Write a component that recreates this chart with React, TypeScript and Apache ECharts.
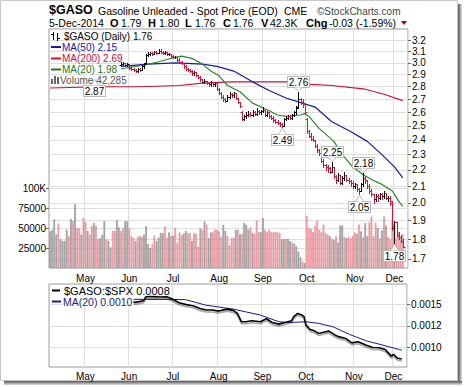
import React, { useEffect, useRef } from 'react';
import * as echarts from 'echarts';

const FONT = '"Liberation Sans", Arial, sans-serif';
const MONTHS = ['Jan', 'Feb', 'Mar', 'Apr', 'May', 'Jun', 'Jul', 'Aug', 'Sep', 'Oct', 'Nov', 'Dec'];
const HOLIDAYS = ['2014-04-18', '2014-05-26', '2014-07-04', '2014-09-01', '2014-11-27'];
const PAD_DAYS = 2;

// price ticks (right axis, log-scaled panel)
const PRICE_TICKS = [1.7, 1.8, 1.9, 2.0, 2.1, 2.2, 2.3, 2.4, 2.5, 2.6, 2.7, 2.8, 2.9, 3.0, 3.1, 3.2];
const PRICE_MIN = 1.656;
const PRICE_MAX = 3.31;
const VOL_TICKS = [25000, 50000, 75000, 100000];
const VOL_MAX = 300000;
const RATIO_TICKS = [0.001, 0.00125, 0.0015];
const RATIO_MIN = 0.000774;
const RATIO_MAX = 0.001736;

// daily OHLC, first bar at trading-day index PRICE_START
const PRICE_START = 34;
const OHLC: number[][] = [
  [2.98, 3.01, 2.97, 2.99], [2.99, 3.01, 2.98, 3.0], [3.0, 3.0, 2.97, 2.98], [2.98, 3.0, 2.97, 2.99],
  [2.98, 2.99, 2.95, 2.96], [2.96, 2.97, 2.94, 2.95], [2.95, 2.96, 2.93, 2.94], [2.94, 2.95, 2.92, 2.93],
  [2.93, 2.96, 2.92, 2.95], [2.95, 2.96, 2.93, 2.94], [2.94, 2.98, 2.94, 2.97], [2.97, 3.0, 2.96, 2.99],
  [3.0, 3.08, 3.0, 3.07], [3.07, 3.1, 3.06, 3.08], [3.08, 3.1, 3.07, 3.09], [3.09, 3.1, 3.07, 3.08],
  [3.08, 3.11, 3.08, 3.1], [3.1, 3.11, 3.08, 3.09], [3.09, 3.12, 3.09, 3.11], [3.11, 3.12, 3.09, 3.1],
  [3.1, 3.11, 3.08, 3.09], [3.09, 3.11, 3.08, 3.1], [3.1, 3.1, 3.07, 3.08], [3.08, 3.09, 3.07, 3.08],
  [3.08, 3.08, 3.05, 3.06], [3.06, 3.07, 3.04, 3.05], [3.05, 3.06, 3.04, 3.05], [3.05, 3.05, 3.02, 3.03],
  [3.03, 3.04, 3.0, 3.01], [3.01, 3.02, 2.99, 3.0], [3.0, 3.0, 2.96, 2.97], [2.97, 2.98, 2.94, 2.95],
  [2.95, 2.96, 2.93, 2.94], [2.94, 2.95, 2.92, 2.93], [2.93, 2.94, 2.9, 2.91], [2.91, 2.93, 2.9, 2.92],
  [2.92, 2.92, 2.89, 2.9], [2.9, 2.9, 2.87, 2.88], [2.88, 2.89, 2.85, 2.86], [2.86, 2.86, 2.83, 2.84],
  [2.84, 2.86, 2.83, 2.85], [2.85, 2.85, 2.82, 2.83], [2.83, 2.84, 2.81, 2.82], [2.82, 2.85, 2.81, 2.84],
  [2.84, 2.84, 2.81, 2.82], [2.82, 2.84, 2.81, 2.83], [2.83, 2.83, 2.77, 2.78], [2.78, 2.79, 2.74, 2.75],
  [2.75, 2.76, 2.71, 2.72], [2.72, 2.73, 2.69, 2.7], [2.7, 2.71, 2.68, 2.69], [2.69, 2.73, 2.69, 2.72],
  [2.72, 2.76, 2.71, 2.74], [2.74, 2.75, 2.72, 2.73], [2.73, 2.76, 2.72, 2.75], [2.75, 2.75, 2.7, 2.71],
  [2.71, 2.71, 2.67, 2.68], [2.68, 2.68, 2.64, 2.65], [2.6, 2.61, 2.54, 2.55], [2.55, 2.58, 2.54, 2.57],
  [2.57, 2.6, 2.56, 2.58], [2.58, 2.61, 2.57, 2.59], [2.59, 2.6, 2.57, 2.58], [2.58, 2.62, 2.57, 2.6],
  [2.6, 2.61, 2.58, 2.59], [2.59, 2.63, 2.58, 2.61], [2.61, 2.62, 2.59, 2.6], [2.6, 2.62, 2.59, 2.61],
  [2.61, 2.64, 2.6, 2.62], [2.62, 2.62, 2.57, 2.58], [2.58, 2.61, 2.57, 2.6], [2.6, 2.6, 2.56, 2.57],
  [2.57, 2.58, 2.55, 2.56], [2.56, 2.57, 2.53, 2.54], [2.54, 2.55, 2.52, 2.53], [2.53, 2.54, 2.51, 2.52],
  [2.52, 2.53, 2.5, 2.51], [2.51, 2.52, 2.49, 2.5], [2.5, 2.56, 2.5, 2.55], [2.55, 2.57, 2.54, 2.56],
  [2.56, 2.58, 2.55, 2.57], [2.57, 2.58, 2.55, 2.56], [2.56, 2.59, 2.55, 2.58], [2.58, 2.61, 2.57, 2.6],
  [2.6, 2.65, 2.59, 2.63], [2.64, 2.76, 2.63, 2.7], [2.7, 2.71, 2.66, 2.68], [2.68, 2.7, 2.64, 2.66],
  [2.66, 2.66, 2.59, 2.6], [2.55, 2.56, 2.45, 2.46], [2.46, 2.47, 2.42, 2.43], [2.43, 2.45, 2.4, 2.41],
  [2.41, 2.43, 2.39, 2.4], [2.4, 2.4, 2.35, 2.36], [2.36, 2.37, 2.32, 2.33], [2.33, 2.34, 2.3, 2.31],
  [2.31, 2.31, 2.25, 2.26], [2.26, 2.27, 2.22, 2.23], [2.23, 2.24, 2.2, 2.22], [2.22, 2.23, 2.19, 2.21],
  [2.21, 2.22, 2.18, 2.19], [2.19, 2.25, 2.19, 2.22], [2.22, 2.22, 2.15, 2.16], [2.16, 2.17, 2.12, 2.14],
  [2.14, 2.18, 2.13, 2.17], [2.17, 2.17, 2.11, 2.12], [2.12, 2.16, 2.11, 2.15], [2.15, 2.19, 2.14, 2.17],
  [2.17, 2.17, 2.13, 2.14], [2.14, 2.15, 2.12, 2.13], [2.13, 2.14, 2.1, 2.12], [2.12, 2.13, 2.09, 2.1],
  [2.1, 2.12, 2.09, 2.11], [2.11, 2.11, 2.07, 2.08], [2.08, 2.09, 2.05, 2.07], [2.07, 2.12, 2.07, 2.11],
  [2.11, 2.18, 2.1, 2.15], [2.15, 2.16, 2.12, 2.14], [2.14, 2.14, 2.09, 2.1], [2.1, 2.11, 2.06, 2.07],
  [2.07, 2.08, 2.04, 2.05], [2.05, 2.05, 2.0, 2.02], [2.02, 2.05, 2.01, 2.04], [2.04, 2.05, 2.01, 2.03],
  [2.03, 2.06, 2.02, 2.05], [2.05, 2.06, 2.02, 2.04], [2.04, 2.07, 2.03, 2.06], [2.06, 2.06, 2.02, 2.03],
  [2.03, 2.04, 2.01, 2.03], [2.03, 2.04, 1.99, 2.01], [2.0, 2.01, 1.85, 1.87], [1.86, 1.9, 1.78, 1.89],
  [1.89, 1.89, 1.81, 1.82], [1.82, 1.84, 1.8, 1.81], [1.81, 1.82, 1.785, 1.79], [1.79, 1.8, 1.76, 1.76],
];

// daily volume in thousands, every trading day from 7-Apr-2014
const VOLUME_K = [
  46, 48, 61, 42, 56, 36, 34, 34, 48, 40,
  61.5, 59, 80, 50, 50, 42, 62.7, 57.8, 46.7, 42,
  52.9, 56.6, 52.9, 36, 37.7, 41.8, 59, 35.7, 34, 25.8,
  46.7, 46.7, 60, 51, 46.7, 50, 58.6, 58.6, 50,
  40, 37.7, 34, 39, 40, 39, 42, 52.5, 30, 25,
  30, 40.6, 33.6, 38, 44, 44, 52.5, 38, 44.7, 40.6,
  40.6, 50, 31.6, 44.7, 41, 43, 46.7, 43.9, 43.9, 34,
  43.9, 43, 27, 49.6, 48, 58.6, 54.5, 37.3, 44.7, 44.7,
  48, 48, 46, 39, 54, 46.7, 40, 28.7, 38,
  38, 48, 48, 42, 43, 56.6, 54.5, 48, 51, 44,
  43, 59.5, 45, 45, 62.7, 48, 45, 48, 45, 45,
  45, 45, 44, 35.7, 36.5, 36.5, 36.5, 34, 31.6, 30.7,
  27.5, 20.5, 13.5, 8.2, 6.2, 65.6, 50.4, 49, 45, 53,
  59.5, 48, 45, 54.5, 44, 42, 39.8, 37, 35, 40,
  32, 53.3, 53.3, 39, 37.7, 39, 37, 40, 44.7, 43,
  54.5, 46, 39, 56.6, 40, 57.4, 64.8, 40, 56.6, 50.4,
  37, 47, 64.8, 53.3, 39, 36, 59.5, 55, 37, 45,
  37, 42.285,
];
// G = up day (grey bar), P = down day (pink bar)
const VOLUME_COLOR =
  'GGGGPGGGGP' + 'GPGPPGPPGP' + 'PGPPGGGPGG' + 'PPGGPPGGP' +
  'PPGPGPGGGG' + 'PPGGGGPPGP' + 'GPPPPGGPPG' + 'PPPGPGPGGP' + 'PPPPGGPP' + 'P' +
  'PGPGPGGGPG' + 'PPPGGPPPPP' + 'PPPGGPGGPG' + 'GGGPGPPPPP' + 'PPPPPPGPGP' +
  'GGGPGPPPPG' + 'PGPGGPPPPG' + 'PGPGPPPGPP' + 'PP';

const MA200_IDX = [0, 24, 43, 62, 73, 87, 115, 125, 135, 151, 160, 169];
const MA200_VAL = [2.79, 2.8, 2.8, 2.81, 2.83, 2.84, 2.84, 2.82, 2.81, 2.78, 2.74, 2.69];
const MA50_IDX = [34, 47, 60, 73, 80, 88, 97, 105, 113, 119, 127, 135, 144, 152, 159, 165, 169];
const MA50_VAL = [2.97, 2.99, 3.0, 2.99, 2.97, 2.93, 2.84, 2.77, 2.71, 2.68, 2.64, 2.53, 2.46, 2.39, 2.3, 2.22, 2.15];
const MA20_IDX = [34, 45, 52, 60, 63, 68, 73, 77, 81, 85, 91, 97, 104, 109, 113, 120, 122, 124, 129, 136, 140, 145, 150, 154, 159, 164, 167, 169];
const MA20_VAL = [2.95, 2.98, 3.01, 3.05, 3.06, 3.04, 2.99, 2.93, 2.89, 2.81, 2.76, 2.67, 2.62, 2.58, 2.57, 2.58, 2.59, 2.57, 2.48, 2.39, 2.3, 2.22, 2.17, 2.14, 2.11, 2.07, 2.01, 1.98];

const ANNOT_IDX = [21, 119, 111, 135, 150, 148, 165];
const ANNOT_VAL = [2.87, 2.76, 2.49, 2.25, 2.18, 2.05, 1.78];
const ANNOT_POS = ['below', 'above', 'below', 'above', 'above', 'below', 'below'];

const RATIO_IDX = [37, 41, 45, 46, 49, 53, 56, 58, 62, 65, 69, 72, 75, 78, 81, 85, 88, 90, 92, 94, 97, 101, 104, 107, 110, 113, 116, 117, 119, 121, 122, 123, 125, 127, 129, 132, 134, 137, 139, 142, 145, 148, 152, 155, 158, 161, 164, 165, 167, 169];
const RATIO_VAL = [0.001542, 0.001523, 0.001542, 0.001588, 0.00159, 0.001585, 0.001588, 0.00157, 0.001519, 0.0015, 0.00148, 0.001453, 0.001434, 0.001434, 0.001422, 0.001445, 0.00143, 0.001395, 0.001298, 0.001298, 0.00131, 0.001298, 0.001333, 0.001286, 0.001271, 0.00129, 0.00131, 0.001356, 0.001395, 0.001376, 0.00136, 0.00126, 0.001209, 0.001193, 0.001163, 0.00118, 0.00119, 0.001143, 0.001123, 0.001105, 0.001054, 0.001066, 0.001027, 0.001, 0.000997, 0.000977, 0.0009, 0.00092, 0.000875, 0.000867];
const RMA_IDX = [37, 45, 55, 65, 75, 88, 101, 110, 115, 123, 129, 136, 144, 152, 160, 168, 169];
const RMA_VAL = [0.001558, 0.001558, 0.001558, 0.001555, 0.00149, 0.001445, 0.001376, 0.001298, 0.00129, 0.001298, 0.00128, 0.00124, 0.00115, 0.001077, 0.001027, 0.000975, 0.000968];

function tradingDays(): string[] {
  const out: string[] = [];
  const d = new Date(Date.UTC(2014, 3, 7));
  const end = Date.UTC(2014, 11, 5);
  while (d.getTime() <= end) {
    const wd = d.getUTCDay();
    const s = d.toISOString().slice(0, 10);
    if (wd !== 0 && wd !== 6 && HOLIDAYS.indexOf(s) < 0) out.push(s);
    d.setUTCDate(d.getUTCDate() + 1);
  }
  return out;
}

const RED = '#e0103c';

function txt(x: number, y: number, text: string, size: number, color = '#000', bold = false, extra: any = {}) {
  return {
    type: 'text', x, y, z: 100, silent: true,
    style: { text, fill: color, font: `${bold ? 'bold ' : ''}${size}px ${FONT}`, align: 'left', verticalAlign: 'middle', lineHeight: size, ...extra },
  };
}
function dash(x: number, y: number, w: number, color: string) {
  return { type: 'rect', z: 100, silent: true, shape: { x, y: y - 1, width: w, height: 2 }, style: { fill: color } };
}

function buildOption() {
  const dates = tradingDays();
  const cats = dates.concat(Array.from({ length: PAD_DAYS }, (_, k) => 'pad' + k));
  const monthStart = cats.map((d, i) => i > 0 && i < dates.length && d.slice(5, 7) !== cats[i - 1].slice(5, 7));
  const interval = (i: number) => !!monthStart[i];
  const monthLabel = (v: string) => (v.startsWith('pad') ? '' : MONTHS[parseInt(v.slice(5, 7), 10) - 1]);

  const ohlcData = OHLC.map((d, k) => {
    const prev = k === 0 ? d[0] : OHLC[k - 1][3];
    return [PRICE_START + k, Math.log(d[0]), Math.log(d[1]), Math.log(d[2]), Math.log(d[3]), d[3] >= prev ? 1 : 0];
  });
  const pairs = (idx: number[], vals: number[], log: boolean) => idx.map((i, k) => [i, log ? Math.log(vals[k]) : vals[k]]);

  const gridLine = { show: true, lineStyle: { color: '#dedede', width: 1 } };
  const xBase = (gridIndex: number, margin: number) => ({
    type: 'category', gridIndex, data: cats, boundaryGap: true,
    axisLine: { show: false }, axisTick: { show: false },
    axisLabel: { interval, formatter: monthLabel, fontSize: 10, color: '#000', margin, fontFamily: FONT },
    splitLine: { ...gridLine, interval },
  });

  const graphic: any[] = [
    // frame and shadow
    { type: 'rect', silent: true, shape: { x: 0.5, y: 0.5, width: 457, height: 380 }, style: { fill: 'none', stroke: '#c8c8c8' } },
    { type: 'rect', silent: true, shape: { x: 458, y: 4, width: 4, height: 381 },
      style: { fill: new echarts.graphic.LinearGradient(0, 0, 1, 0, [{ offset: 0, color: '#555' }, { offset: 1, color: '#ddd' }]) } },
    { type: 'rect', silent: true, shape: { x: 4, y: 381, width: 458, height: 4 },
      style: { fill: new echarts.graphic.LinearGradient(0, 0, 0, 1, [{ offset: 0, color: '#555' }, { offset: 1, color: '#ddd' }]) } },
    // header
    txt(49, 10, '$GASO', 12.5, '#000', true),
    txt(98, 11, 'Gasoline Unleaded - Spot Price (EOD)', 10.5),
    txt(284, 11, 'CME', 10.5),
    txt(317, 11, '©StockCharts.com', 10, '#444'),
    txt(49, 23, '5-Dec-2014', 10.5),
    txt(110, 23, 'O', 11, '#000', true), txt(121, 23, '1.79', 10.5),
    txt(148, 23, 'H', 11, '#000', true), txt(159, 23, '1.80', 10.5),
    txt(185, 23, 'L', 11, '#000', true), txt(195, 23, '1.76', 10.5),
    txt(223, 23, 'C', 11, '#000', true), txt(233, 23, '1.76', 10.5),
    txt(261, 23, 'V', 11, '#000', true), txt(270, 23, '42.3K', 10.5),
    txt(306, 23, 'Chg', 11, '#000', true), txt(329, 23, '-0.03 (-1.59%)', 10.5),
    { type: 'polygon', silent: true, shape: { points: [[401, 21], [407, 21], [404, 25]] }, style: { fill: '#a00030' } },
    // main legend
    { type: 'line', z: 100, silent: true, shape: { x1: 53.5, y1: 32, x2: 53.5, y2: 40 }, style: { stroke: '#000' } },
    { type: 'line', z: 100, silent: true, shape: { x1: 51, y1: 34.5, x2: 53.5, y2: 34.5 }, style: { stroke: '#000' } },
    { type: 'line', z: 100, silent: true, shape: { x1: 57.5, y1: 33, x2: 57.5, y2: 41 }, style: { stroke: '#000' } },
    { type: 'line', z: 100, silent: true, shape: { x1: 57.5, y1: 38.5, x2: 60, y2: 38.5 }, style: { stroke: '#000' } },
    txt(64, 36, '$GASO (Daily) 1.76', 10),
    dash(51, 47, 10, '#1a1a9a'), txt(62, 47, 'MA(50) 2.15', 10, '#1a1a9a'),
    dash(51, 58.5, 10, '#d0103a'), txt(62, 58.5, 'MA(200) 2.69', 10, '#d0103a'),
    dash(51, 69.5, 10, '#1e7b1e'), txt(62, 69.5, 'MA(20) 1.98', 10, '#1e7b1e'),
    { type: 'rect', z: 100, silent: true, shape: { x: 51, y: 79, width: 2, height: 5 }, style: { fill: '#666' } },
    { type: 'rect', z: 100, silent: true, shape: { x: 54, y: 76, width: 2, height: 8 }, style: { fill: '#666' } },
    { type: 'rect', z: 100, silent: true, shape: { x: 57, y: 77, width: 2, height: 7 }, style: { fill: '#666' } },
    txt(60, 80, 'Volume 42,285', 10, '#555'),
    // lower legend
    dash(52, 290.5, 8, '#000'), txt(64, 290.5, '$GASO:$SPX 0.0008', 11, '#000'),
    dash(52, 301.5, 9, '#1a1a8a'),
    txt(62, 301.5, 'MA(20) 0.0010', 10.5, '#1a1a8a', false, { backgroundColor: '#fff', padding: [0, 1, 0, 1] }),
  ];

  return {
    animation: false,
    backgroundColor: '#fff',
    textStyle: { fontFamily: FONT },
    graphic: { elements: graphic },
    grid: [
      { left: 49, top: 29, width: 359, height: 239, show: true, borderColor: '#9a9a9a', borderWidth: 1, outerBoundsMode: 'none' },
      { left: 49, top: 284, width: 358, height: 83, show: true, borderColor: '#9a9a9a', borderWidth: 1, outerBoundsMode: 'none' },
    ],
    xAxis: [xBase(0, 5), xBase(1, 4)],
    yAxis: [
      {
        type: 'value', gridIndex: 0, position: 'right', min: Math.log(PRICE_MIN), max: Math.log(PRICE_MAX),
        axisLine: { show: false },
        axisTick: { show: true, length: 3, customValues: PRICE_TICKS.map(Math.log), lineStyle: { color: '#666' } },
        axisLabel: { customValues: PRICE_TICKS.map(Math.log), formatter: (v: number) => Math.exp(v).toFixed(1), fontSize: 10, color: '#000', margin: 4 },
        splitLine: gridLine,
      },
      {
        type: 'value', gridIndex: 0, position: 'left', min: 0, max: VOL_MAX,
        axisLine: { show: false },
        axisTick: { show: true, length: 3, customValues: VOL_TICKS, lineStyle: { color: '#666' } },
        axisLabel: { customValues: VOL_TICKS, formatter: (v: number) => (v >= 100000 ? Math.round(v / 1000) + 'K' : String(v)), fontSize: 10, color: '#000', margin: 3 },
        splitLine: gridLine,
      },
      {
        type: 'value', gridIndex: 1, position: 'right', min: RATIO_MIN, max: RATIO_MAX,
        axisLine: { show: false },
        axisTick: { show: true, length: 3, customValues: RATIO_TICKS, lineStyle: { color: '#666' } },
        axisLabel: { customValues: RATIO_TICKS, formatter: (v: number) => (Math.floor(v * 10000 + 1e-6) / 10000).toFixed(4), fontSize: 10, color: '#000', margin: 4 },
        splitLine: gridLine,
      },
    ],
    series: [
      {
        type: 'bar', xAxisIndex: 0, yAxisIndex: 1, z: 1, barWidth: '78%',
        data: VOLUME_K.map((v, i) => ({
          value: v * 1000,
          itemStyle: VOLUME_COLOR[i] === 'G'
            ? { color: '#b3b3b3', borderColor: '#8c8c8c', borderWidth: 0.6 }
            : { color: '#f2b1b7', borderColor: '#e27f8a', borderWidth: 0.6 },
        })),
      },
      { type: 'line', xAxisIndex: 0, yAxisIndex: 0, z: 2, symbol: 'none', data: pairs(MA200_IDX, MA200_VAL, true), lineStyle: { color: '#d0103a', width: 1.2 } },
      { type: 'line', xAxisIndex: 0, yAxisIndex: 0, z: 2, symbol: 'none', data: pairs(MA50_IDX, MA50_VAL, true), lineStyle: { color: '#1a1a9a', width: 1.2 } },
      { type: 'line', xAxisIndex: 0, yAxisIndex: 0, z: 2, symbol: 'none', data: pairs(MA20_IDX, MA20_VAL, true), lineStyle: { color: '#2a872a', width: 1.2 } },
      {
        type: 'custom', xAxisIndex: 0, yAxisIndex: 0, z: 4,
        data: ohlcData, encode: { x: 0, y: [1, 2, 3, 4] },
        renderItem: (params: any, api: any) => {
          const i = api.value(0);
          const pO = api.coord([i, api.value(1)]);
          const pH = api.coord([i, api.value(2)]);
          const pL = api.coord([i, api.value(3)]);
          const pC = api.coord([i, api.value(4)]);
          const color = api.value(5) > 0 ? '#000' : RED;
          const x = Math.round(pO[0]) + 0.5;
          const yo = Math.round(pO[1]) + 0.5;
          const yc = Math.round(pC[1]) + 0.5;
          const st = { stroke: color, lineWidth: 1 };
          return {
            type: 'group', children: [
              { type: 'line', shape: { x1: x, y1: Math.round(pH[1]), x2: x, y2: Math.max(Math.round(pL[1]) + 1, Math.round(pH[1]) + 2) }, style: st },
              { type: 'line', shape: { x1: x - 2, y1: yo, x2: x, y2: yo }, style: st },
              { type: 'line', shape: { x1: x, y1: yc, x2: x + 2, y2: yc }, style: st },
            ],
          };
        },
      },
      {
        type: 'custom', xAxisIndex: 0, yAxisIndex: 0, z: 5,
        data: ANNOT_IDX.map((i, k) => [i, Math.log(ANNOT_VAL[k])]), encode: { x: 0, y: 1 },
        renderItem: (params: any, api: any) => {
          const k = params.dataIndex;
          const p = api.coord([api.value(0), api.value(1)]);
          const above = ANNOT_POS[k] === 'above';
          const w = 22, h = 11, gap = above ? 5 : 7;
          const cx = Math.round(p[0]) + 0.5;
          const top = above ? Math.round(p[1] - gap - h) + 0.5 : Math.round(p[1] + gap) + 0.5;
          const edge = above ? top + h : top;
          const tip = above ? p[1] - 1 : p[1] + 1;
          return {
            type: 'group', children: [
              { type: 'rect', shape: { x: cx - w / 2, y: top, width: w, height: h }, style: { fill: '#fff', stroke: '#b8b8b8', lineWidth: 1 } },
              { type: 'polygon', shape: { points: [[cx - 4, edge], [cx + 4, edge], [cx, tip]] }, style: { fill: '#fff' } },
              { type: 'polyline', shape: { points: [[cx - 4, edge], [cx, tip], [cx + 4, edge]] }, style: { stroke: '#b8b8b8', fill: 'none', lineWidth: 1 } },
              { type: 'text', style: { text: ANNOT_VAL[k].toFixed(2), x: cx, y: top + h / 2 + 0.5, align: 'center', verticalAlign: 'middle', lineHeight: 10, font: `10px ${FONT}`, fill: '#000' } },
            ],
          };
        },
      },
      {
        type: 'line', xAxisIndex: 1, yAxisIndex: 2, z: 3, symbol: 'none', data: pairs(RATIO_IDX, RATIO_VAL, false),
        lineStyle: { color: '#000', width: 1.6, shadowColor: 'rgba(0,0,0,0.35)', shadowBlur: 1, shadowOffsetY: 2 },
      },
      { type: 'line', xAxisIndex: 1, yAxisIndex: 2, z: 2, symbol: 'none', data: pairs(RMA_IDX, RMA_VAL, false), lineStyle: { color: '#1a1a8a', width: 1 } },
    ],
  };
}

export default function App() {
  const ref = useRef<HTMLDivElement>(null);
  useEffect(() => {
    document.body.style.margin = '0';
    const chart = echarts.init(ref.current as HTMLDivElement, undefined, { renderer: 'svg' });
    chart.setOption(buildOption() as any);
    return () => chart.dispose();
  }, []);
  return <div ref={ref} style={{ width: 464, height: 387, background: '#fff' }} />;
}
